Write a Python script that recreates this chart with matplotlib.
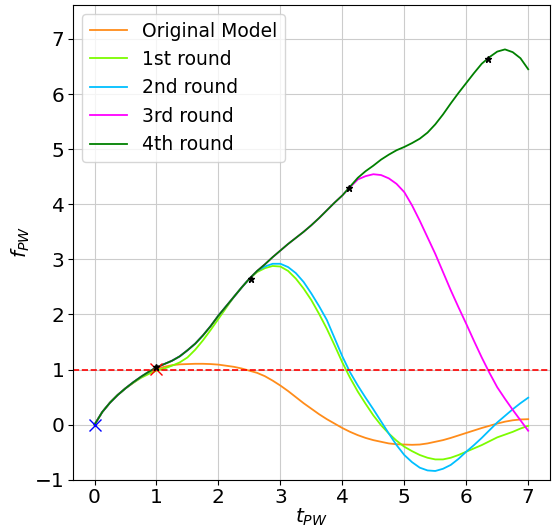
import numpy as np
import matplotlib
matplotlib.use('Agg')
import matplotlib.pyplot as plt

# t_PW cada 0.125, de 0 a 7 (57 puntos)
t = np.arange(57) * 0.125

# valores
f_orig = [0, 0.23, 0.40, 0.54, 0.66, 0.76, 0.86, 0.94, 1.01, 1.05, 1.08, 1.095, 1.10, 1.105, 1.105,
          1.10, 1.09, 1.07, 1.05, 1.02, 0.98, 0.94, 0.88, 0.80, 0.71, 0.61, 0.50, 0.39, 0.29, 0.19,
          0.10, 0.02, -0.06, -0.13, -0.19, -0.24, -0.28, -0.31, -0.34, -0.355, -0.36, -0.365, -0.36,
          -0.34, -0.31, -0.28, -0.24, -0.195, -0.15, -0.105, -0.06, -0.02, 0.02, 0.055, 0.08, 0.095, 0.10]

f_r1 = [0, 0.23, 0.40, 0.54, 0.66, 0.76, 0.85, 0.92, 0.98, 1.02, 1.07, 1.13, 1.22, 1.36, 1.53,
        1.72, 1.92, 2.12, 2.32, 2.49, 2.65, 2.77, 2.84, 2.88, 2.87, 2.79, 2.65, 2.47, 2.26, 2.01,
        1.74, 1.44, 1.13, 0.85, 0.60, 0.38, 0.17, -0.01, -0.16, -0.29, -0.40, -0.48, -0.55, -0.60,
        -0.63, -0.63, -0.60, -0.55, -0.49, -0.43, -0.37, -0.30, -0.23, -0.18, -0.13, -0.07, -0.02]

# tramo comun de las rondas 2-4 (t = 0 .. 4)
f_comun = [0, 0.23, 0.40, 0.54, 0.66, 0.77, 0.87, 0.96, 1.04, 1.10, 1.16, 1.24, 1.35, 1.47, 1.62,
           1.79, 1.98, 2.15, 2.32, 2.49, 2.65, 2.79, 2.91, 3.04, 3.16, 3.28, 3.39, 3.50, 3.62, 3.75,
           3.89, 4.03, 4.16]

# desde t = 2.625
f_r2_fin = [2.79, 2.87, 2.92, 2.92, 2.86, 2.75, 2.59, 2.38, 2.15, 1.90, 1.57, 1.24, 0.95, 0.71,
            0.49, 0.28, 0.06, -0.16, -0.37, -0.55, -0.68, -0.78, -0.83, -0.84, -0.80, -0.73, -0.62,
            -0.49, -0.37, -0.24, -0.10, 0.04, 0.16, 0.28, 0.39, 0.49]
# desde t = 4.125
f_r3_fin = [4.31, 4.45, 4.51, 4.545, 4.53, 4.47, 4.37, 4.22, 3.98, 3.70, 3.40, 3.10, 2.77, 2.44,
            2.13, 1.83, 1.52, 1.22, 0.94, 0.68, 0.47, 0.27, 0.08, -0.11]
f_r4_fin = [4.32, 4.48, 4.60, 4.70, 4.81, 4.90, 4.98, 5.04, 5.11, 5.19, 5.30, 5.45, 5.63, 5.83,
            6.02, 6.20, 6.38, 6.55, 6.67, 6.77, 6.81, 6.76, 6.65, 6.45]

f_r2 = f_comun[:21] + f_r2_fin
f_r3 = f_comun + f_r3_fin
f_r4 = f_comun + f_r4_fin

t_estrellas = [1.0, 2.52, 4.11, 6.35]
f_estrellas = [1.05, 2.65, 4.30, 6.63]

plt.rcParams['font.size'] = 13.5
fig, ax = plt.subplots(figsize=(5.56, 5.29), dpi=100)
fig.subplots_adjust(left=0.131, right=0.989, top=0.991, bottom=0.093)

lw = 1.3
ax.plot(t, f_orig, color='#ff8c1a', lw=lw, label='Original Model')
ax.plot(t, f_r1, color='lawngreen', lw=lw, label='1st round')
ax.plot(t, f_r2, color='deepskyblue', lw=lw, label='2nd round')
ax.plot(t, f_r3, color='magenta', lw=lw, label='3rd round')
ax.plot(t, f_r4, color='green', lw=lw, label='4th round')

ax.axhline(1, color='red', ls='--', lw=1.2)
ax.plot(0, 0, 'x', color='blue', ms=8)
ax.plot(1, 1.01, 'x', color='red', ms=8)
ax.plot(t_estrellas, f_estrellas, '*', color='black', ms=5)

ax.set_xlim(-0.35, 7.35)
ax.set_ylim(-1.0, 7.62)
ax.set_xticks(range(0, 8))
ax.set_yticks(range(-1, 8))
ax.tick_params(labelsize=14.5, pad=2.5)
ax.grid(True, color='#cccccc')
ax.set_xlabel('$t_{PW}$', fontsize=14.5, labelpad=0)
ax.set_ylabel('$f_{PW}$', fontsize=14.5, labelpad=2)
ax.legend(loc='upper left')

fig.savefig('out.png')
